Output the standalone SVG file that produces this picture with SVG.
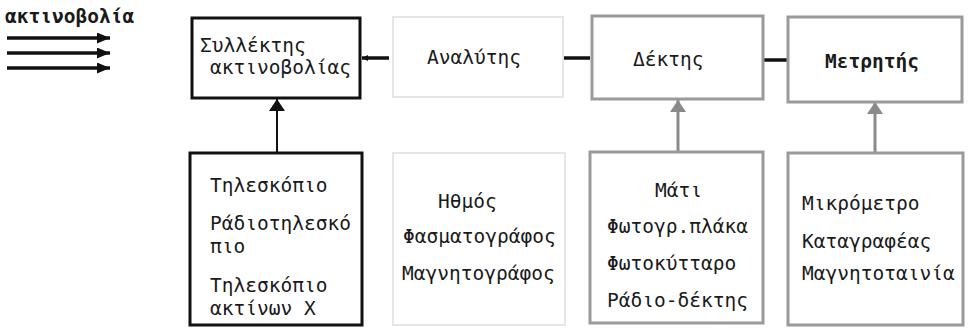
<svg xmlns="http://www.w3.org/2000/svg" width="970" height="328" viewBox="0 0 970 328">
<defs>
<style>
.t{font-family:"DejaVu Sans Mono","Liberation Mono",monospace;font-size:19.5px;fill:#1a1a1a}
.b{font-weight:bold}
.bk{fill:#fff;stroke:#111;stroke-width:3}
.gy{fill:#fff;stroke:#9a9a9a;stroke-width:3}
.fa{fill:#fff;stroke:#e6e6e6;stroke-width:2}
.cb{stroke:#111;stroke-width:2;fill:none}
.cg{stroke:#8a8a8a;stroke-width:3;fill:none}
.ch{stroke:#111;stroke-width:3.5;fill:none}
</style>
<marker id="ab" viewBox="0 0 13 11" refX="13" refY="5.5" markerWidth="13" markerHeight="11" markerUnits="userSpaceOnUse" orient="auto"><path d="M0,0L13,5.5L0,11z" fill="#111"/></marker>
<marker id="tb" viewBox="0 0 12 16" refX="12" refY="8" markerWidth="12" markerHeight="16" markerUnits="userSpaceOnUse" orient="auto"><path d="M0,0L12,8L0,16z" fill="#111"/></marker>
<marker id="tg" viewBox="0 0 12 16" refX="12" refY="8" markerWidth="12" markerHeight="16" markerUnits="userSpaceOnUse" orient="auto"><path d="M0,0L12,8L0,16z" fill="#8a8a8a"/></marker>
<marker id="sm" viewBox="0 0 6 6" refX="6" refY="3" markerWidth="6" markerHeight="6" markerUnits="userSpaceOnUse" orient="auto"><path d="M0,0L6,3L0,6z" fill="#111"/></marker>
</defs>
<rect width="970" height="328" fill="#fff"/>

<g id="radiation">
<text class="t b" x="5" y="23">ακτινοβολία</text>
</g>

<g id="connectors">
<line class="ch" x1="7" y1="38" x2="110" y2="38" marker-end="url(#ab)"/>
<line class="ch" x1="7" y1="53" x2="110" y2="53" marker-end="url(#ab)"/>
<line class="ch" x1="7" y1="68" x2="110" y2="68" marker-end="url(#ab)"/>
<line class="ch" x1="389" y1="58" x2="362" y2="58" marker-end="url(#sm)"/>
<line class="ch" x1="590" y1="58" x2="555" y2="58"/>
<line class="ch" x1="787" y1="60" x2="758" y2="60"/>
<line class="cb" x1="277" y1="153" x2="277" y2="99" marker-end="url(#tb)"/>
<line class="cg" x1="678" y1="152" x2="678" y2="100" marker-end="url(#tg)"/>
<line class="cg" x1="875" y1="153" x2="875" y2="102" marker-end="url(#tg)"/>
</g>

<g id="collector">
<rect class="bk" x="192" y="18" width="168" height="80"/>
<text class="t" x="200" y="52">Συλλέκτης</text>
<text class="t" x="210" y="74">ακτινοβολίας</text>
</g>

<g id="analyzer">
<rect class="fa" x="393" y="17" width="170" height="80"/>
<text class="t" x="427" y="64">Αναλύτης</text>
</g>

<g id="receiver">
<rect class="gy" x="592" y="16" width="171" height="83"/>
<text class="t" x="633" y="66">Δέκτης</text>
</g>

<g id="counter">
<rect class="gy" x="788" y="17" width="174" height="85"/>
<text class="t b" x="825" y="68">Μετρητής</text>
</g>

<g id="telescopes">
<rect class="bk" x="190" y="153" width="172" height="172"/>
<text class="t" x="210" y="192">Τηλεσκόπιο</text>
<text class="t" x="210" y="230">Ράδιοτηλεσκό</text>
<text class="t" x="210" y="253">πιο</text>
<text class="t" x="210" y="292">Τηλεσκόπιο</text>
<text class="t" x="210" y="315">ακτίνων Χ</text>
</g>

<g id="analyzers">
<rect class="fa" x="393" y="153" width="172" height="172"/>
<text class="t" x="438" y="208">Ηθμός</text>
<text class="t" x="403" y="243">Φασματογράφος</text>
<text class="t" x="402" y="280">Μαγνητογράφος</text>
</g>

<g id="receivers">
<rect class="gy" x="590" y="152" width="173" height="171"/>
<text class="t" x="655" y="197">Μάτι</text>
<text class="t" x="607" y="233">Φωτογρ.πλάκα</text>
<text class="t" x="607" y="270">Φωτοκύτταρο</text>
<text class="t" x="607" y="307">Ράδιο-δέκτης</text>
</g>

<g id="counters">
<rect class="gy" x="788" y="153" width="175" height="172"/>
<text class="t" x="802" y="210">Μικρόμετρο</text>
<text class="t" x="802" y="248">Καταγραφέας</text>
<text class="t" x="802" y="280">Μαγνητοταινία</text>
</g>
</svg>
